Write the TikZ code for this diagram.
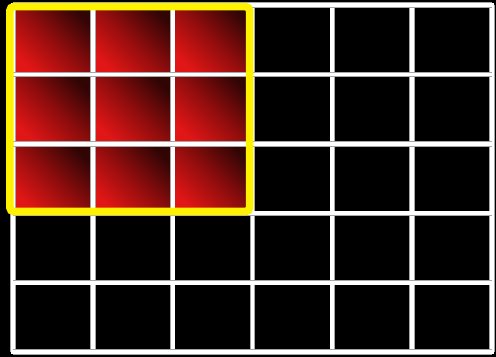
\documentclass[tikz,border=0pt]{standalone}
\usepackage{tikz}
\usetikzlibrary{fit,backgrounds}
\definecolor{vilpiros}{RGB}{226,22,22}
\definecolor{kozpiros}{RGB}{145,13,13}
\definecolor{sotpiros}{RGB}{50,5,5}
\tikzset{
  cella/.style={rectangle,inner sep=0pt,minimum width=3.99cm,minimum height=3.47cm,fill=black},
  piros/.style={shade,left color=vilpiros,right color=sotpiros,middle color=kozpiros,shading angle=135},
  racs/.style={draw=white,line width=0.19cm,line cap=rect,preaction={draw=gray!70,line width=0.27cm}},
  keret/.style={draw=yellow,line width=0.38cm,rounded corners=0.2cm,inner xsep=0pt,inner ysep=-0.09cm,xshift=-0.15cm},
}
\begin{document}
\begin{tikzpicture}[x=0.05cm,y=-0.05cm]
  \fill[black] (0,0) rectangle (496,357);
  \useasboundingbox (0,0) rectangle (496,357);
  % cellak
  \foreach \r in {1,...,5}
    \foreach \c in {1,...,6}
      \node[cella] (c-\r-\c) at ({13+79.83*(\c-0.5)},{5+69.4*(\r-0.5)}) {};
  \foreach \r in {1,2,3}
    \foreach \c in {1,2,3}
      \node[cella,piros] at (c-\r-\c) {};
  % racs
  \foreach \i in {0,...,6}
    \draw[racs] ({13+79.83*\i},5) -- ({13+79.83*\i},352);
  \foreach \j in {0,...,5}
    \draw[racs] (13,{5+69.4*\j}) -- (492,{5+69.4*\j});
  % kijeloles
  \node[keret,fit=(c-1-1)(c-3-3)] (ablak) {};
\end{tikzpicture}
\end{document}
